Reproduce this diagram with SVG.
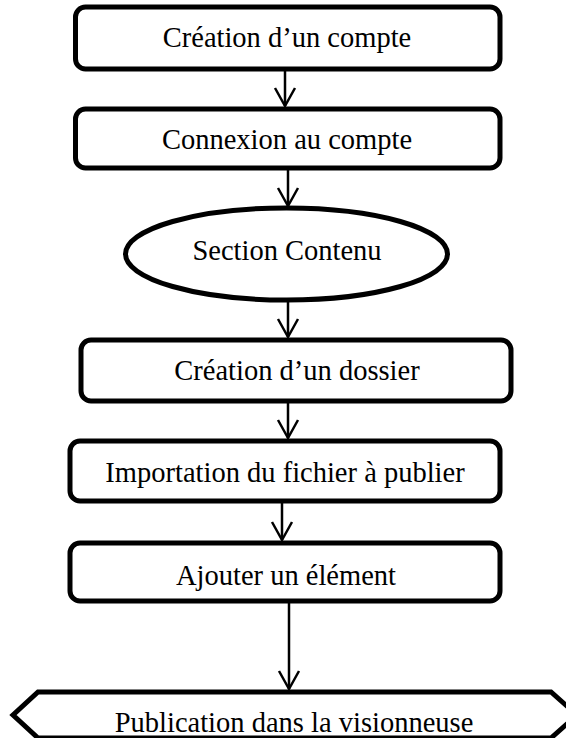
<svg xmlns="http://www.w3.org/2000/svg" width="566" height="738" viewBox="0 0 566 738">
<defs>
<style>
.box{fill:#fff;stroke:#000;stroke-width:5}
.t{font-family:"Liberation Serif","Times New Roman",serif;font-size:28.5px;fill:#000;text-anchor:middle}
.c{stroke:#000;stroke-width:2.5;fill:none}
</style>
<marker id="ah" markerUnits="userSpaceOnUse" markerWidth="22" markerHeight="24" refX="19" refY="11" orient="auto" viewBox="0 0 22 22">
<path d="M1,1 L19,11 L1,21" fill="none" stroke="#000" stroke-width="2.5"/>
</marker>
</defs>
<rect width="566" height="738" fill="#fff"/>
<g id="connectors">
<line class="c" x1="285" y1="71" x2="285" y2="106" marker-end="url(#ah)"/>
<line class="c" x1="288" y1="170" x2="288" y2="206" marker-end="url(#ah)"/>
<line class="c" x1="288" y1="302" x2="288" y2="337" marker-end="url(#ah)"/>
<line class="c" x1="288" y1="403" x2="288" y2="438" marker-end="url(#ah)"/>
<line class="c" x1="282" y1="503" x2="282" y2="540" marker-end="url(#ah)"/>
<line class="c" x1="289" y1="603" x2="289" y2="689" marker-end="url(#ah)"/>
</g>
<g id="n1"><rect class="box" x="75.5" y="7" width="424.5" height="62" rx="10"/><text class="t" x="287" y="47">Création d’un compte</text></g>
<g id="n2"><rect class="box" x="75.5" y="109" width="424.5" height="59" rx="10"/><text class="t" x="287" y="149">Connexion au compte</text></g>
<g id="n3"><ellipse class="box" cx="286.5" cy="254" rx="161" ry="46"/><text class="t" x="287" y="260">Section Contenu</text></g>
<g id="n4"><rect class="box" x="81" y="340" width="430" height="61" rx="10"/><text class="t" x="297" y="380">Création d’un dossier</text></g>
<g id="n5"><rect class="box" x="70" y="441" width="430" height="60" rx="10"/><text class="t" x="285" y="482">Importation du fichier à publier</text></g>
<g id="n6"><rect class="box" x="70" y="543" width="430" height="58" rx="10"/><text class="t" x="286" y="585">Ajouter un élément</text></g>
<g id="n7"><polygon class="box" points="38,692 551,692 577,715 551,738 38,738 13,715"/><text class="t" x="294" y="732">Publication dans la visionneuse</text></g>
</svg>
